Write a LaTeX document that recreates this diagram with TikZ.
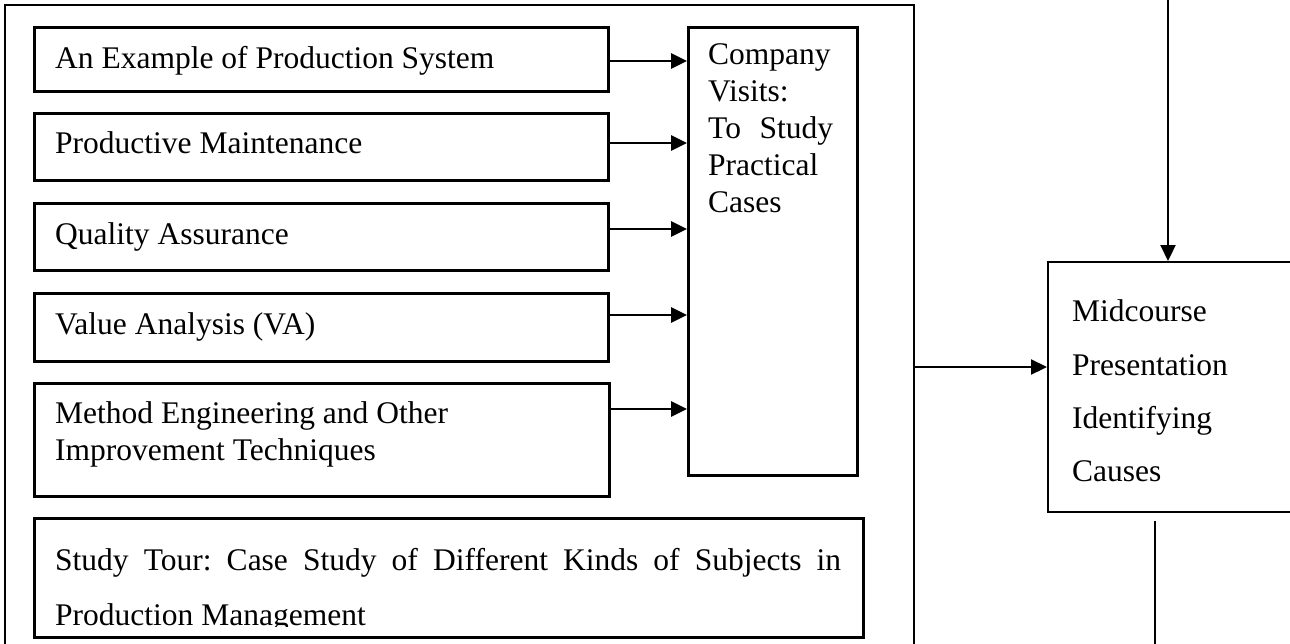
\documentclass[tikz,border=0pt]{standalone}
\usepackage{fontspec}
\setmainfont{Liberation Serif}
\usetikzlibrary{arrows.meta}
\begin{document}
\frenchspacing
\begin{tikzpicture}[x=1pt,y=-1pt,
  box/.style={draw, line width=2.8pt, inner sep=0pt, anchor=north west},
  txt/.style={anchor=base west, inner sep=0pt, font=\fontsize{31.5}{37}\selectfont},
  arr/.style={line width=2.8pt, -{Triangle[length=16pt,width=15pt]}},
  arrthin/.style={line width=2.2pt, -{Triangle[length=16pt,width=15pt]}},
  ln/.style={line width=2.8pt},
  lnthin/.style={line width=2.2pt}]
\useasboundingbox (0,0) rectangle (1290,643);
% outer frame
\coordinate (oTL) at (5,5);
\coordinate (oTR) at (914,5);
\coordinate (oBL) at (5,650);
\coordinate (oBR) at (914,650);
\draw[ln] (oBL) -- (oTL) -- (oTR) -- (oBR);
% boxes
\node[box, minimum width=574pt, minimum height=64pt] (b1) at (33,26) {};
\node[box, minimum width=574pt, minimum height=67pt] (b2) at (33,112) {};
\node[box, minimum width=574pt, minimum height=67pt] (b3) at (33,202) {};
\node[box, minimum width=574pt, minimum height=68pt] (b4) at (33,292) {};
\node[box, minimum width=575pt, minimum height=113pt] (b5) at (33,382) {};
\node[box, minimum width=829pt, minimum height=119pt] (st) at (33,517) {};
\node[box, minimum width=169pt, minimum height=448pt] (cv) at (687,26) {};
\node[box, line width=2.2pt, minimum width=300pt, minimum height=250pt] (mid) at (1047,261) {};
% texts
\node[txt] (t1) at (55,68) {An Example of Production System};
\node[txt] (t2) at (55,153) {Productive Maintenance};
\node[txt] (t3) at (55,244) {Quality Assurance};
\node[txt] (t4) at (55,334) {Value Analysis (VA)};
\node[txt] (t5a) at (55,423) {Method Engineering and Other};
\node[txt] (t5b) at (55,460) {Improvement Techniques};
\node[txt] (st1) at (55,570) {\makebox[786pt][s]{Study Tour: Case Study of Different Kinds of Subjects in}};
\begin{scope}
\clip (33,517) rectangle (862,626);
\node[txt] (st2) at (55,625) {Production Management};
\end{scope}
\node[txt] (c1) at (708,64) {Company};
\node[txt] (c2) at (708,101) {Visits:};
\node[txt] (c3) at (708,138) {\hbox to 125pt{To\hfill Study}};
\node[txt] (c4) at (708,175) {Practical};
\node[txt] (c5) at (708,212) {Cases};
\node[txt] (m1) at (1072,321) {Midcourse};
\node[txt] (m2) at (1072,375) {Presentation};
\node[txt] (m3) at (1072,428) {Identifying};
\node[txt] (m4) at (1072,481) {Causes};
% arrows into company visits
\coordinate (y1) at (0,61);
\coordinate (y2) at (0,143);
\coordinate (y3) at (0,229);
\coordinate (y4) at (0,315);
\coordinate (y5) at (0,409);
\draw[arr] (b1.east |- y1) -- (cv.west |- y1);
\draw[arr] (b2.east |- y2) -- (cv.west |- y2);
\draw[arr] (b3.east |- y3) -- (cv.west |- y3);
\draw[arr] (b4.east |- y4) -- (cv.west |- y4);
\draw[arr] (b5.east |- y5) -- (cv.west |- y5);
% to midcourse
\coordinate (oOut) at (914,367);
\draw[arrthin] (oOut) -- (mid.west |- oOut);
\coordinate (topIn) at (1168,-5);
\draw[arrthin] (topIn) -- (mid.north -| topIn);
\coordinate (botS) at (1155,521);
\coordinate (botE) at (1155,650);
\draw[lnthin] (botS) -- (botE);
\end{tikzpicture}
\end{document}
